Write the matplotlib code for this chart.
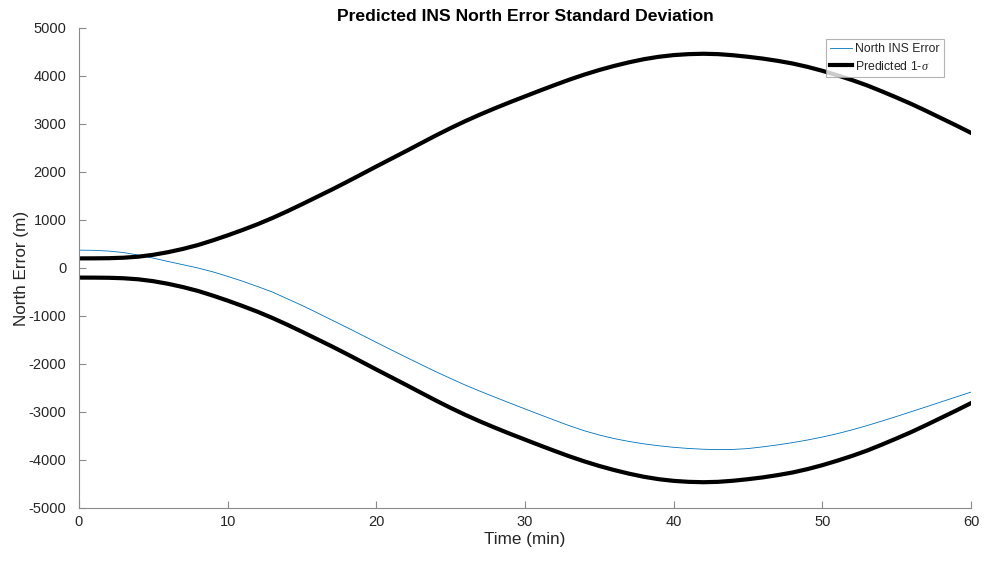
import matplotlib
matplotlib.use("Agg")
import matplotlib.pyplot as plt
import numpy as np

plt.rcParams['font.family'] = ['Liberation Sans', 'DejaVu Sans']
plt.rcParams['axes.unicode_minus'] = False
plt.rcParams['mathtext.fontset'] = 'custom'
plt.rcParams['mathtext.it'] = 'Liberation Serif:italic'

time_min = list(range(0, 61))
north_err = [372, 368, 352, 322, 268, 205, 135, 68, 0, -80,
             -175, -275, -385, -500, -640, -780, -930, -1083, -1236, -1392,
             -1550, -1705, -1858, -2010, -2160, -2302, -2442, -2570, -2694, -2816,
             -2936, -3055, -3172, -3288, -3392, -3480, -3554, -3614, -3664, -3704,
             -3736, -3760, -3776, -3784, -3780, -3762, -3726, -3685, -3638, -3584,
             -3522, -3452, -3372, -3284, -3190, -3092, -2992, -2891, -2789, -2687,
             -2586]
sigma = [200, 201, 204, 214, 236, 275, 330, 398, 478, 575,
         680, 792, 910, 1040, 1180, 1328, 1480, 1632, 1790, 1952,
         2115, 2275, 2435, 2598, 2760, 2915, 3062, 3200, 3330, 3455,
         3575, 3695, 3812, 3925, 4030, 4125, 4210, 4285, 4350, 4400,
         4435, 4455, 4463, 4455, 4432, 4400, 4362, 4315, 4260, 4190,
         4108, 4015, 3915, 3805, 3680, 3550, 3415, 3270, 3120, 2970,
         2815]

x_ticks = [0, 10, 20, 30, 40, 50, 60]
y_ticks = [-5000, -4000, -3000, -2000, -1000, 0, 1000, 2000, 3000, 4000, 5000]

t = np.array(time_min)
s = np.array(sigma)

fig = plt.figure(figsize=(9.85, 5.63), dpi=100)
ax = fig.add_axes([0.0802, 0.0977, 0.9056, 0.8526])

ax.plot(t, north_err, color='#0072BD', lw=0.6, label='North INS Error')
ax.plot(t, s, color='black', lw=3.0, label='Predicted 1-$\\sigma$')
ax.plot(t, -s, color='black', lw=3.0)

ax.set_xlim(0, 60)
ax.set_ylim(-5000, 5000)
ax.set_xticks(x_ticks)
ax.set_yticks(y_ticks)

axis_col = '#8a8a8a'
for side in ['top', 'right']:
    ax.spines[side].set_visible(False)
for side in ['left', 'bottom']:
    ax.spines[side].set_color(axis_col)
    ax.spines[side].set_linewidth(0.8)
ax.tick_params(direction='in', length=5, width=0.8, color=axis_col,
               labelcolor='#262626', labelsize=10.5)
ax.tick_params(axis='y', pad=9)
ax.tick_params(axis='x', pad=5)

ax.set_xlabel('Time (min)', fontsize=12.3, color='#262626', labelpad=2)
ax.set_ylabel('North Error (m)', fontsize=12.3, color='#262626', labelpad=0)
ax.set_title('Predicted INS North Error Standard Deviation', fontsize=12.6,
             fontweight='bold', color='black', pad=5)

leg = ax.legend(loc='upper right', bbox_to_anchor=(0.972, 0.982), fontsize=8.8,
                frameon=True, fancybox=False, borderpad=0.35, labelspacing=0.35,
                handlelength=1.75, handletextpad=0.25, borderaxespad=0.2)
leg.get_frame().set_edgecolor('#a0a0a0')
leg.get_frame().set_linewidth(0.8)
for txt in leg.get_texts():
    txt.set_color('#262626')

fig.savefig('out.png', dpi=100)
